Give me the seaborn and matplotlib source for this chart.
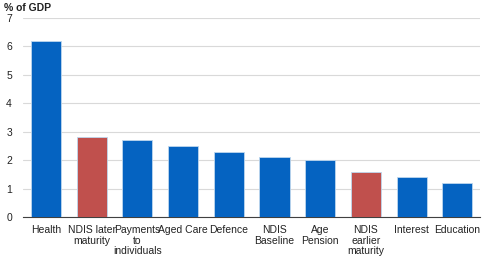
import matplotlib
matplotlib.use("Agg")
import matplotlib.pyplot as plt
import seaborn as sns
import pandas as pd
import numpy as np

categories = ["Health", "NDIS later\nmaturity", "Payments\nto\nindividuals", "Aged Care",
              "Defence", "NDIS\nBaseline", "Age\nPension", "NDIS\nearlier\nmaturity",
              "Interest", "Education"]
values = [6.2, 2.8, 2.7, 2.5, 2.3, 2.1, 2.0, 1.6, 1.4, 1.2]
groups = ["base", "ndis", "base", "base", "base", "base", "base", "ndis", "base", "base"]
yticks = [0, 1, 2, 3, 4, 5, 6, 7]

sns.set_theme(style="white")
plt.rcParams["font.family"] = ["Liberation Sans", "DejaVu Sans"]

df = pd.DataFrame({"cat": categories, "val": values, "grp": groups})
palette = {"base": "#0563C1", "ndis": "#C0504D"}

fig = plt.figure(figsize=(4.91, 2.60), dpi=100)
ax = fig.add_axes([0.047, 0.165, 0.931, 0.766])
sns.barplot(data=df, x="cat", y="val", hue="grp", palette=palette, dodge=False,
            width=0.66, legend=False, ax=ax, edgecolor="#BDD7EE", linewidth=0.6,
            saturation=1, zorder=3)

ax.set_ylim(0, 7)
ax.set_xlim(-0.5, len(categories) - 0.5)
ax.set_yticks(yticks)
ax.set_yticklabels([str(t) for t in yticks], fontsize=7.5, color="#222222")
ax.yaxis.grid(True, color="#D9D9D9", linewidth=0.8, zorder=0)
ax.set_axisbelow(True)
ax.tick_params(axis="y", length=0, pad=8)
ax.set_xlabel("")
ax.set_ylabel("")

ax.set_xticks(np.arange(len(categories)))
ax.set_xticklabels(categories, fontsize=7.5, color="#222222", linespacing=1.05)
ax.tick_params(axis="x", which="major", length=0, pad=6)
ax.set_xticks(np.arange(-0.5, len(categories)), minor=True)
ax.tick_params(axis="x", which="minor", length=3, color="#404040", width=0.8, direction="out")

for s in ["left", "right", "top"]:
    ax.spines[s].set_visible(False)
ax.spines["bottom"].set_color("#404040")
ax.spines["bottom"].set_linewidth(0.8)

fig.text(0.008, 0.968, "% of GDP", fontsize=7.5, fontweight="bold", color="#222222",
         ha="left", va="center")

fig.savefig("out.png", dpi=100)
